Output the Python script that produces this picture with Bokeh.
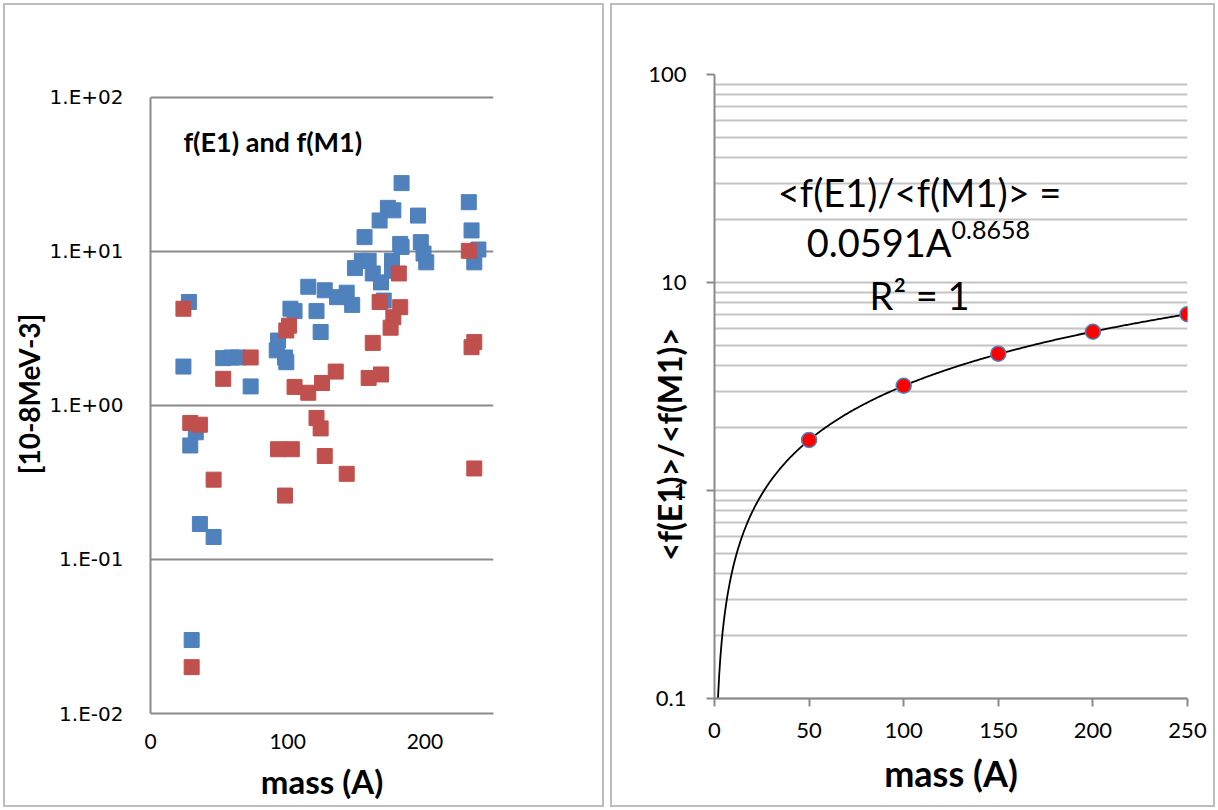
import numpy as np
from bokeh.plotting import figure
from bokeh.layouts import row
from bokeh.models import Range1d, FixedTicker, Span
from bokeh.core.properties import value
from bokeh.embed import file_html
from bokeh.resources import INLINE

# ---------------- data: left panel (f(E1) blue, f(M1) red) ----------------
e1_mass = [183, 232, 173, 177, 195, 167, 234, 156, 182, 183, 197, 199, 201, 239, 236,
           149, 154, 159, 162, 168, 176, 176, 170, 115, 127, 136, 143, 147, 102, 105,
           121, 124, 28, 24, 53, 59, 64, 93, 92, 98, 99, 73, 33, 29, 36, 46, 30]
e1_val = [27.8, 20.9, 19.2, 18.5, 17.1, 15.9, 13.7, 12.4, 11.2, 10.7, 11.5, 9.7, 8.5, 10.3, 8.5,
          7.8, 8.7, 8.7, 7.2, 6.3, 8.7, 7.5, 4.8, 5.9, 5.6, 5.05, 5.4, 4.5, 4.25, 4.1,
          4.1, 3.0, 4.7, 1.79, 2.03, 2.05, 2.05, 2.64, 2.28, 2.05, 1.91, 1.33, 0.67, 0.55, 0.17, 0.14, 0.03]
m1_mass = [232, 181, 167, 182, 177, 175, 101, 99, 24, 73, 53, 162, 236, 234, 135, 125,
           105, 115, 159, 168, 121, 124, 29, 36, 93, 103, 127, 143, 46, 98, 236, 30]
m1_val = [10.1, 7.2, 4.7, 4.35, 3.74, 3.2, 3.3, 3.07, 4.25, 2.05, 1.49, 2.55, 2.58, 2.39, 1.66, 1.40,
          1.32, 1.21, 1.51, 1.59, 0.83, 0.71, 0.77, 0.75, 0.52, 0.52, 0.47, 0.36, 0.33, 0.26, 0.39, 0.02]
left_ticks_y = [0.01, 0.1, 1, 10, 100]
left_tick_labels = ["1.E-02", "1.E-01", "1.E+00", "1.E+01", "1.E+02"]
left_ticks_x = [0, 100, 200]

# ---------------- data: right panel (ratio) ----------------
ratio_mass = [50, 100, 150, 200, 250]
ratio_val = [1.75, 3.19, 4.55, 5.80, 7.04]
fit_coef = 0.0591
fit_exp = 0.8658
right_ticks_y = [0.1, 1, 10, 100]
right_tick_labels = ["0.1", "1", "10", "100"]
right_ticks_x = [0, 50, 100, 150, 200, 250]

SANS = "Lato"
AXIS_GREY = "#8a8a8a"
BORDER_STYLE = {"outline": "2px solid #bdbdbd", "outline-offset": "-5px"}

# ================= left figure =================
p1 = figure(width=607, height=810, x_range=Range1d(0, 250), y_range=Range1d(0.01, 141.0),
            y_axis_type="log", output_backend="svg", toolbar_location=None,
            min_border_left=150, min_border_right=114, min_border_top=74, min_border_bottom=97)
p1.outline_line_color = None
p1.border_fill_color = None
p1.background_fill_color = None
p1.styles = BORDER_STYLE
p1.xgrid.visible = False
p1.yaxis.ticker = FixedTicker(ticks=left_ticks_y)
p1.yaxis.major_label_overrides = dict(zip(left_ticks_y, left_tick_labels))
p1.yaxis.bounds = (0.01, 100)
p1.ygrid.grid_line_color = AXIS_GREY
p1.ygrid.grid_line_width = 2
for ax in (p1.xaxis, p1.yaxis):
    ax.axis_line_color = AXIS_GREY
    ax.axis_line_width = 2
    ax.major_tick_line_color = None
    ax.minor_tick_line_color = None
    ax.major_tick_out = 0
    ax.major_tick_in = 0
    ax.axis_label_text_color = "black"
    ax.major_label_text_color = "black"
p1.yaxis.major_label_text_font = "DejaVu Sans"
p1.yaxis.major_label_text_font_size = "20px"
p1.yaxis.major_label_standoff = 27
p1.yaxis.axis_label = "[10-8MeV-3]"
p1.yaxis.axis_label_text_font = SANS
p1.yaxis.axis_label_text_font_style = "bold"
p1.yaxis.axis_label_text_font_size = "28px"
p1.yaxis.axis_label_standoff = 1
p1.xaxis.ticker = FixedTicker(ticks=left_ticks_x)
p1.xaxis.major_label_text_font = SANS
p1.xaxis.major_label_text_font_size = "21px"
p1.xaxis.major_label_standoff = 20
p1.xaxis.axis_label = "mass (A)"
p1.xaxis.axis_label_text_font = SANS
p1.xaxis.axis_label_text_font_style = "bold"
p1.xaxis.axis_label_text_font_size = "33px"
p1.xaxis.axis_label_standoff = 9

p1.scatter(e1_mass, e1_val, marker="square", size=15, fill_color="#4f81bd", line_color="#4f81bd")
p1.scatter(m1_mass, m1_val, marker="square", size=15, fill_color="#c0504d", line_color="#c0504d")
p1.text(x=[24], y=[51.8], text=["f(E1) and f(M1)"], text_font=value(SANS), text_font_style="bold",
        text_font_size="27px", text_align="left", text_baseline="alphabetic", text_color="black")

# ================= right figure =================
p2 = figure(width=611, height=810, x_range=Range1d(0, 250), y_range=Range1d(0.0847, 100),
            y_axis_type="log", output_backend="svg", toolbar_location=None,
            min_border_left=107, min_border_right=31, min_border_top=74, min_border_bottom=97)
p2.outline_line_color = None
p2.border_fill_color = None
p2.background_fill_color = None
p2.styles = BORDER_STYLE
p2.xgrid.visible = False
minor = [m * 10.0 ** d for d in (-1, 0, 1) for m in range(2, 10)]
p2.yaxis.ticker = FixedTicker(ticks=right_ticks_y, minor_ticks=minor)
p2.yaxis.major_label_overrides = dict(zip(right_ticks_y, right_tick_labels))
p2.yaxis.bounds = (0.1, 100)
p2.ygrid.grid_line_color = "#c4c4c4"
p2.ygrid.grid_line_width = 2
p2.ygrid.minor_grid_line_color = "#c4c4c4"
p2.ygrid.minor_grid_line_width = 2
for ax in (p2.xaxis, p2.yaxis):
    ax.axis_line_color = AXIS_GREY
    ax.axis_line_width = 2
    ax.major_tick_line_color = AXIS_GREY
    ax.major_tick_line_width = 2
    ax.minor_tick_line_color = None
    ax.major_label_text_font = SANS
    ax.major_label_text_font_size = "22px"
    ax.major_label_text_color = "black"
    ax.axis_label_text_font = SANS
    ax.axis_label_text_font_style = "bold"
    ax.axis_label_text_color = "black"
p2.yaxis.major_tick_out = 8
p2.yaxis.major_tick_in = 0
p2.yaxis.major_label_standoff = 20
# axis title sits over the tick labels as in the reference; trailing no-break spaces shift it down
p2.yaxis.axis_label = "<f(E1)>/<f(M1)>" + "\u00a0" * 13
p2.yaxis.axis_label_text_font_size = "32px"
p2.yaxis.axis_label_standoff = -44
# x axis drawn at the bottom of the frame, its line replaced by a span at y = 0.1
p2.xaxis.axis_line_color = None
p2.xaxis.major_tick_in = 15
p2.xaxis.major_tick_out = -7
p2.xaxis.ticker = FixedTicker(ticks=right_ticks_x)
p2.xaxis.major_label_standoff = 9
p2.xaxis.axis_label = "mass (A)"
p2.xaxis.axis_label_text_font_size = "36px"
p2.xaxis.axis_label_standoff = 10
p2.add_layout(Span(location=right_ticks_y[0], dimension="width", line_color=AXIS_GREY, line_width=2))

fit_x = np.linspace(1.84, 250, 400)
fit_y = fit_coef * fit_x ** fit_exp
p2.line(fit_x, fit_y, line_color="black", line_width=1.8)
p2.scatter(ratio_mass, ratio_val, marker="circle", size=15, fill_color="#ff0000",
           line_color="#4f81bd", line_width=1.5)

p2.text(x=[108.4], y=[27.1], text=["<f(E1)/<f(M1)> ="], text_font=value(SANS), text_font_size="38px",
        text_align="center", text_baseline="alphabetic", text_color="black")
p2.text(x=[125.3], y=[15.6], text=["0.0591A"], text_font=value(SANS), text_font_size="38px",
        text_align="right", text_baseline="alphabetic", text_color="black")
p2.text(x=[125.3], y=[17.8], text=["0.8658"], text_font=value(SANS), text_font_size="25px",
        text_align="left", text_baseline="alphabetic", text_color="black")
p2.text(x=[108.4], y=[8.75], text=["R² = 1"], text_font=value(SANS), text_font_size="38px",
        text_align="center", text_baseline="alphabetic", text_color="black")

layout = row(p1, p2, spacing=0)
open("out.html", "w").write(file_html(layout, INLINE))
